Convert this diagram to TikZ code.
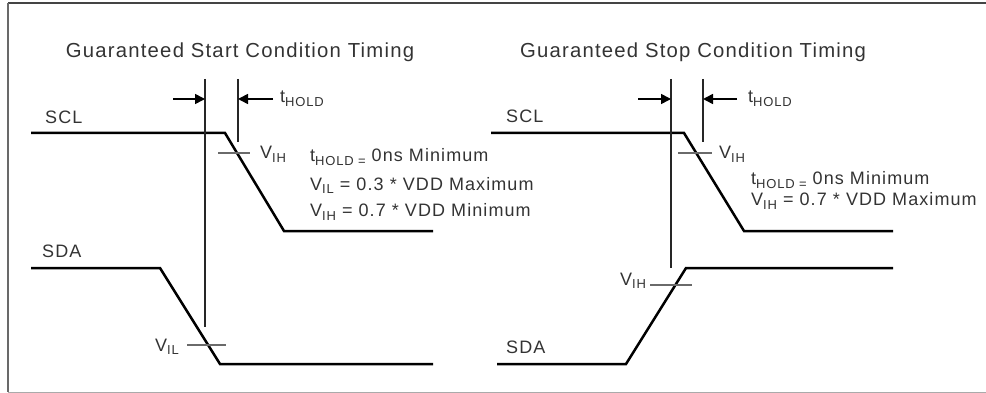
\documentclass[tikz,border=0pt]{standalone}
\usepackage{fontspec}
\setmainfont{Liberation Sans}[LetterSpace=6]
\newfontfamily\titlefont{Liberation Sans}[LetterSpace=6]
\usetikzlibrary{arrows.meta}
\definecolor{txt}{HTML}{333333}
\definecolor{frameA}{HTML}{444444}
\definecolor{frameB}{HTML}{AAAAAA}
\definecolor{tick}{HTML}{6A6A6A}
\newcommand{\sbs}[1]{\raisebox{-0.35ex}{\fontsize{13}{14}\selectfont #1}}
\begin{document}
\begin{tikzpicture}[x=1pt,y=-1pt,
  lbl/.style={inner sep=0pt,anchor=base west,text=txt,font=\fontsize{18}{21}\selectfont},
  ttl/.style={inner sep=0pt,anchor=base,text=txt,font=\titlefont\fontsize{20.3}{23}\selectfont},
  sig/.style={line width=2.5pt,black,line join=miter},
  vline/.style={line width=1.6pt,black!85},
  tickline/.style={line width=2pt,tick},
  dimarrow/.style={line width=1.6pt,black,-{Triangle[length=10pt,width=10pt]}}]
\useasboundingbox (0,0) rectangle (986,393);
% frame
\coordinate (fTL) at (8,3.5);
\coordinate (fTR) at (986,3.5);
\coordinate (fBL) at (8,392);
\coordinate (fBR) at (986,392);
\draw[line width=2pt,frameA] (fTR) -- (fTL);
\draw[line width=1.5pt,frameA!80] (fTL) -- (fBL);
\draw[line width=1pt,frameB] (fBL) -- (fBR);

% ===== Left: start condition =====
\node[ttl] (t1) at (240,58) {Guaranteed Start Condition Timing};
\node[lbl] (scl1) at (45,124) {SCL};
\node[lbl] (sda1) at (42,257) {SDA};
\coordinate (s1a) at (31,133); \coordinate (s1b) at (225,133);
\coordinate (s1c) at (284,231); \coordinate (s1d) at (433,231);
\draw[sig] (s1a) -- (s1b) -- (s1c) -- (s1d);
\coordinate (d1a) at (31,268); \coordinate (d1b) at (160,268);
\coordinate (d1c) at (220,364); \coordinate (d1d) at (433,364);
\draw[sig] (d1a) -- (d1b) -- (d1c) -- (d1d);
\coordinate (v1t) at (205,79); \coordinate (v1b) at (205,327);
\coordinate (v2t) at (238,79); \coordinate (v2b) at (238,142);
\draw[vline] (v1t) -- (v1b);
\draw[vline] (v2t) -- (v2b);
\coordinate (a1s) at (173,99); \coordinate (a1e) at (205,99);
\coordinate (a2s) at (273,99); \coordinate (a2e) at (238,99);
\draw[dimarrow] (a1s) -- (a1e);
\draw[dimarrow] (a2s) -- (a2e);
\node[lbl] (th1) at (280,103) {t\sbs{HOLD}};
\coordinate (k1a) at (218,153); \coordinate (k1b) at (250,153);
\draw[tickline] (k1a) -- (k1b);
\node[lbl] (vih1) at (260,159) {V\sbs{IH}};
\coordinate (k2a) at (187,345); \coordinate (k2b) at (226,345);
\draw[tickline] (k2a) -- (k2b);
\node[lbl] (vil1) at (155,351) {V\sbs{IL}};
\node[lbl] (c11) at (310,162) {t\sbs{HOLD =} 0ns Minimum};
\node[lbl] (c12) at (310,190) {V\sbs{IL} = 0.3 * VDD Maximum};
\node[lbl] (c13) at (310,217) {V\sbs{IH} = 0.7 * VDD Minimum};

% ===== Right: stop condition =====
\node[ttl] (t2) at (693,58) {Guaranteed Stop Condition Timing};
\node[lbl] (scl2) at (506,123) {SCL};
\node[lbl] (sda2) at (506,353) {SDA};
\coordinate (s2a) at (491,133); \coordinate (s2b) at (684,133);
\coordinate (s2c) at (744,231); \coordinate (s2d) at (893,231);
\draw[sig] (s2a) -- (s2b) -- (s2c) -- (s2d);
\coordinate (d2a) at (497,364); \coordinate (d2b) at (626,364);
\coordinate (d2c) at (686,268); \coordinate (d2d) at (893,268);
\draw[sig] (d2a) -- (d2b) -- (d2c) -- (d2d);
\coordinate (v3t) at (671,79); \coordinate (v3b) at (671,268);
\coordinate (v4t) at (703,79); \coordinate (v4b) at (703,142);
\draw[vline] (v3t) -- (v3b);
\draw[vline] (v4t) -- (v4b);
\coordinate (a3s) at (638,99); \coordinate (a3e) at (671,99);
\coordinate (a4s) at (737,99); \coordinate (a4e) at (703,99);
\draw[dimarrow] (a3s) -- (a3e);
\draw[dimarrow] (a4s) -- (a4e);
\node[lbl] (th2) at (748,103) {t\sbs{HOLD}};
\coordinate (k3a) at (678,153); \coordinate (k3b) at (712,153);
\draw[tickline] (k3a) -- (k3b);
\node[lbl] (vih2) at (719,159) {V\sbs{IH}};
\coordinate (k4a) at (650,285); \coordinate (k4b) at (692,285);
\draw[tickline] (k4a) -- (k4b);
\node[lbl] (vih3) at (620,285) {V\sbs{IH}};
\node[lbl] (c21) at (751,185) {t\sbs{HOLD =} 0ns Minimum};
\node[lbl] (c22) at (751,206) {V\sbs{IH} = 0.7 * VDD Maximum};
\end{tikzpicture}
\end{document}
